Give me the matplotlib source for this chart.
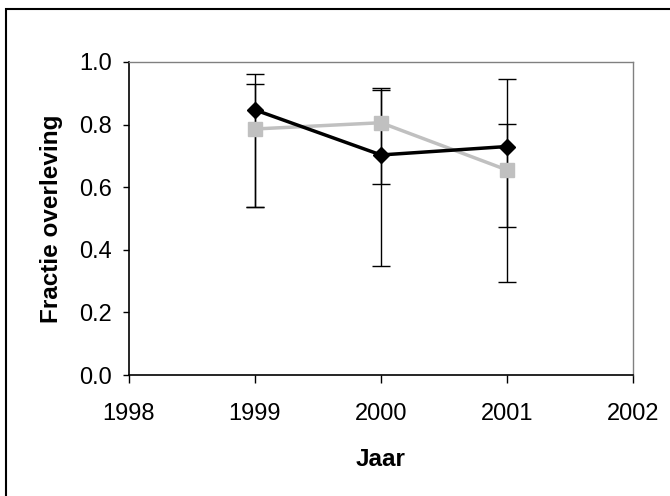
import matplotlib
matplotlib.use('Agg')
import matplotlib.pyplot as plt
import matplotlib.patches as mpatches

plt.rcParams['font.family'] = ['Liberation Sans', 'DejaVu Sans']

years = [1999, 2000, 2001]
black_vals = [0.847, 0.703, 0.730]
black_lo = [0.537, 0.349, 0.298]
black_hi = [0.962, 0.909, 0.946]
grey_vals = [0.786, 0.806, 0.655]
grey_lo = [0.537, 0.610, 0.474]
grey_hi = [0.930, 0.916, 0.802]

xticks = [1998, 1999, 2000, 2001, 2002]
yticks = [0.0, 0.2, 0.4, 0.6, 0.8, 1.0]

fig = plt.figure(figsize=(6.7, 4.96), dpi=100)
ax = fig.add_axes([129 / 670, 1 - 375 / 496, 504 / 670, 313 / 496])

def err(vals, lo, hi):
  return [[v - l for v, l in zip(vals, lo)], [h - v for v, h in zip(vals, hi)]]

# error bars first (black for both series), then lines + markers on top
for vals, lo, hi in [(black_vals, black_lo, black_hi), (grey_vals, grey_lo, grey_hi)]:
  ax.errorbar(years, vals, yerr=err(vals, lo, hi), fmt='none', ecolor='black',
              elinewidth=1.0, capsize=6.5, capthick=1.0, zorder=2)

ax.plot(years, grey_vals, color='#c0c0c0', linewidth=2.5, marker='s', markersize=10,
        markerfacecolor='#c0c0c0', markeredgecolor='#c0c0c0', zorder=3)
ax.plot(years, black_vals, color='black', linewidth=2.5, marker='D', markersize=8.5,
        markerfacecolor='black', markeredgecolor='black', zorder=4)

ax.set_xlim(1998, 2002)
ax.set_ylim(0, 1.0)
ax.set_xticks(xticks)
ax.set_xticklabels([str(x) for x in xticks])
ax.set_yticks(yticks)
ax.set_yticklabels(['%.1f' % y for y in yticks])
ax.tick_params(axis='both', labelsize=17, width=1, colors='black')
ax.tick_params(axis='x', length=6, pad=14.5)
ax.tick_params(axis='y', length=4.5, pad=8)

for side in ['top', 'right']:
  ax.spines[side].set_color('#808080')
  ax.spines[side].set_linewidth(1)
for side in ['left', 'bottom']:
  ax.spines[side].set_color('black')
  ax.spines[side].set_linewidth(1.2)

ax.set_xlabel('Jaar', fontsize=17.5, fontweight='bold', labelpad=16.5)
ax.set_ylabel('Fractie overleving', fontsize=17.5, fontweight='bold', labelpad=11)

# outer chart border (cut off at right and bottom edges)
fig.patches.append(mpatches.Rectangle((6 / 670, -0.1), 1.2, 1 - 9 / 496 + 0.1,
                                      transform=fig.transFigure, fill=False,
                                      edgecolor='black', linewidth=1.5))

plt.savefig('out.png', dpi=100)
